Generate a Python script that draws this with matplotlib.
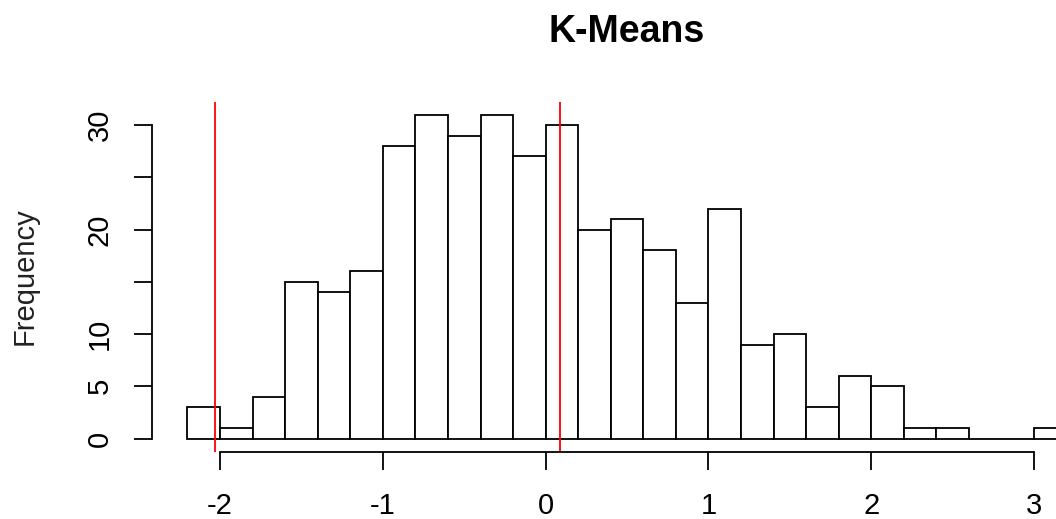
# K-Means histogram, R base-graphics look

import numpy as np
import matplotlib
matplotlib.use('Agg')
import matplotlib.pyplot as plt

# ---- data ----
bin_start = -2.2
bin_width = 0.2
counts = [3, 1, 4, 15, 14, 16, 28, 31, 29, 31, 27, 30,
          20, 21, 18, 13, 22, 9, 10, 3, 6, 5, 1, 1, 0, 0, 1]
centers = [-2.03, 0.09]          # red reference lines
x_ticks = [-2, -1, 0, 1, 2, 3]
y_ticks = [0, 5, 10, 15, 20, 25, 30]
y_labels = ['0', '5', '10', '', '20', '', '30']

plt.rcParams['font.family'] = ['Liberation Sans', 'DejaVu Sans']

W, H = 1056, 519
fig = plt.figure(figsize=(W / 100, H / 100), dpi=100)

# plot region in pixels (top-left origin); right side runs past the image edge
left, right, top, bottom = 152.3, 1101.8, 101.7, 451.5
ax = fig.add_axes([left / W, 1 - bottom / H, (right - left) / W, (bottom - top) / H])

edges = np.round(bin_start + bin_width * np.arange(len(counts)), 2)
ax.bar(edges, counts, width=bin_width, align='edge',
       facecolor='white', edgecolor='black', linewidth=1.3)

for c in centers:
    ax.axvline(c, color='red', linewidth=1.3)

xmin, xmax = edges[0], edges[-1] + bin_width
pad = 0.04 * (xmax - xmin)
ax.set_xlim(xmin - pad, xmax + pad)
ymax = max(counts)
ax.set_ylim(-0.04 * ymax, ymax * 1.04)

ax.spines['top'].set_visible(False)
ax.spines['right'].set_visible(False)
ax.spines['left'].set_bounds(0, 30)
ax.spines['bottom'].set_bounds(-2, 3)
for s in ('left', 'bottom'):
    ax.spines[s].set_linewidth(1.3)

ax.set_xticks(x_ticks)
ax.set_xticklabels([str(t) for t in x_ticks])
ax.set_yticks(y_ticks)
ax.set_yticklabels(y_labels, rotation=90, va='center')
ax.tick_params(axis='both', length=13, width=1.3, labelsize=21, direction='out')
ax.tick_params(axis='x', pad=16)
ax.tick_params(axis='y', pad=15)

ax.set_ylabel('Frequency', fontsize=21, color='#222222', labelpad=34)
fig.text((left + right) / 2 / W, 1 - 42 / H, 'K-Means', ha='center', va='baseline',
         fontsize=27, fontweight='bold')

fig.savefig('out.png', dpi=100)
